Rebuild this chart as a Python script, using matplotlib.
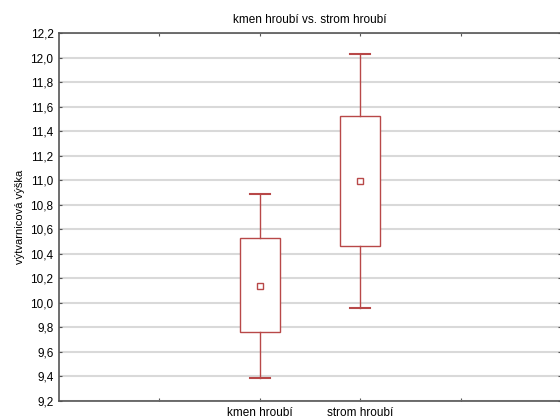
import matplotlib.pyplot as plt
from matplotlib.ticker import FuncFormatter, MultipleLocator
from matplotlib.patches import Rectangle

plt.rcParams['font.family'] = ['Liberation Sans', 'DejaVu Sans']

# skupiny a statistiky (prumer, +-SE box, +-SD vousy)
skupiny = ['kmen hroubí', 'strom hroubí']
pozice = [2, 3]
prumer = [10.14, 10.99]
box_dolni = [9.76, 10.46]
box_horni = [10.53, 11.52]
vous_dolni = [9.39, 9.96]
vous_horni = [10.89, 12.03]

barva = '#b84848'

fig = plt.figure(figsize=(5.6, 4.19), dpi=100)
ax = fig.add_axes([59 / 560, 1 - 401 / 419, 502 / 560, 368 / 419])

sirka = 0.4
cap = 0.2
for x, m, b0, b1, w0, w1 in zip(pozice, prumer, box_dolni, box_horni, vous_dolni, vous_horni):
    ax.add_patch(Rectangle((x - sirka / 2, b0), sirka, b1 - b0, facecolor='white',
                           edgecolor=barva, linewidth=1.0, zorder=3))
    ax.plot([x, x], [b1, w1], color=barva, lw=1.0, zorder=3)
    ax.plot([x, x], [w0, b0], color=barva, lw=1.0, zorder=3)
    ax.plot([x - cap / 2, x + cap / 2], [w1, w1], color=barva, lw=1.5, zorder=3)
    ax.plot([x - cap / 2, x + cap / 2], [w0, w0], color=barva, lw=1.5, zorder=3)
    ax.plot(x, m, marker='s', markersize=4, markerfacecolor='white',
            markeredgecolor=barva, markeredgewidth=1.0, zorder=4)

ax.set_xlim(0, 5)
ax.set_ylim(9.2, 12.2)
ax.yaxis.set_major_locator(MultipleLocator(0.2))
ax.yaxis.set_major_formatter(FuncFormatter(lambda v, p: f'{v:.1f}'.replace('.', ',')))
ax.set_xticks([1, 2, 3, 4])
ax.set_xticklabels(['', skupiny[0], skupiny[1], ''])

ax.grid(axis='y', color='#d9d9d9', linewidth=1.5, zorder=0)
ax.set_axisbelow(True)
ax.tick_params(axis='both', direction='in', length=2, width=0.8, color='#555555',
               labelsize=8.5, top=True, right=True, pad=4)
for s in ax.spines.values():
    s.set_color('#555555')
    s.set_linewidth(1.2)

ax.set_ylabel('výtvarnicová výška', fontsize=8, labelpad=4)
ax.set_title('kmen hroubí vs. strom hroubí', fontsize=8.5, pad=7)

fig.savefig('out.png', dpi=100)
